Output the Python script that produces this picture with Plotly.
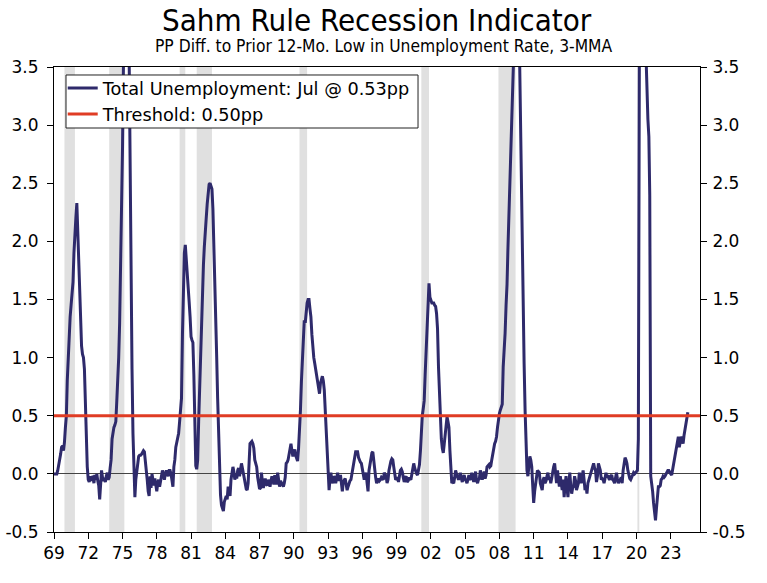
import pandas as pd
import plotly.graph_objects as go

# ---------------- data ----------------
start_month = "1969-01-01"

sahm_1969_1979 = [
    0.00, 0.00, 0.00, 0.00, 0.03, 0.07, 0.12, 0.17, 0.23, 0.24, 0.20, 0.27,   # 1969
    0.40, 0.50, 0.80, 1.05, 1.21, 1.35, 1.45, 1.55, 1.65, 1.90, 2.10, 2.20,   # 1970
    2.33, 2.05, 1.85, 1.45, 1.30, 1.10, 1.03, 1.00, 0.90, 0.60, 0.30, 0.06,   # 1971
    -0.05, -0.07, -0.02, -0.06, -0.02, -0.03, -0.08, -0.01, -0.05, 0.00, -0.06, -0.10,  # 1972
    -0.22, -0.08, 0.03, -0.03, -0.06, -0.05, -0.07, -0.02, 0.01, -0.05, -0.03, 0.05,    # 1973
    0.12, 0.30, 0.38, 0.40, 0.42, 0.45, 0.62, 0.78, 1.00, 1.30, 1.70, 2.20,   # 1974
    2.80, 3.55, 3.85, 4.00, 4.05, 4.05, 3.95, 3.60, 2.40, 1.60, 0.90, 0.35,   # 1975
    -0.08, -0.20, -0.05, 0.03, 0.12, 0.15, 0.16, 0.16, 0.17, 0.18, 0.20, 0.19,  # 1976
    0.12, 0.05, -0.05, -0.15, -0.19, -0.02, -0.12, 0.00, -0.05, -0.10, -0.04, -0.12,  # 1977
    -0.15, -0.08, -0.05, -0.11, -0.06, -0.02, 0.03, -0.01, -0.05, 0.00, 0.03, 0.00,   # 1978
    -0.02, 0.03, 0.03, 0.00, -0.05, -0.11, 0.06, 0.12, 0.23, 0.27, 0.31, 0.35,        # 1979
]
sahm_1980s = [
    0.45, 0.60, 0.65, 1.20, 1.65, 1.90, 1.97, 1.82, 1.70, 1.60, 1.48, 1.35,   # 1980
    1.18, 1.15, 1.13, 0.85, 0.25, 0.07, 0.04, 0.12, 0.45, 0.72, 1.05, 1.38,   # 1981
    1.60, 1.80, 1.95, 2.15, 2.20, 2.32, 2.44, 2.49, 2.50, 2.48, 2.45, 2.28,   # 1982
    2.00, 1.70, 1.30, 1.00, 0.65, 0.35, 0.05, -0.18, -0.27, -0.30, -0.32, -0.24,  # 1983
    -0.21, -0.19, -0.22, -0.11, -0.15, -0.19, -0.05, 0.03, 0.06, 0.02, -0.05, 0.00,  # 1984
    -0.04, 0.03, 0.05, -0.02, 0.04, 0.09, 0.05, 0.00, -0.05, -0.11, -0.13, -0.14,   # 1985
    -0.08, 0.10, 0.26, 0.27, 0.28, 0.26, 0.22, 0.12, 0.08, 0.06, -0.03, -0.11,      # 1986
    -0.13, -0.12, 0.01, -0.06, -0.12, -0.08, -0.04, -0.09, -0.10, -0.05, -0.08, -0.11,  # 1987
    -0.06, -0.02, -0.05, -0.09, -0.01, -0.05, -0.09, 0.01, -0.04, -0.11, -0.06, -0.08,  # 1988
    -0.09, -0.11, -0.08, -0.03, 0.09, 0.10, 0.12, 0.17, 0.21, 0.26, 0.20, 0.15,      # 1989
]
sahm_1990s = [
    0.18, 0.21, 0.16, 0.12, 0.11, 0.22, 0.35, 0.55, 0.80, 0.97, 1.12, 1.32,   # 1990
    1.30, 1.40, 1.47, 1.50, 1.50, 1.42, 1.35, 1.20, 1.05, 1.00, 0.95, 0.89,   # 1991
    0.85, 0.78, 0.72, 0.69, 0.78, 0.82, 0.84, 0.80, 0.72, 0.55, 0.40, 0.22,   # 1992
    0.05, -0.14, -0.05, 0.01, -0.06, -0.08, -0.02, -0.04, -0.08, -0.02, 0.01, -0.05,  # 1993
    -0.05, -0.01, -0.08, -0.15, -0.07, -0.05, -0.04, -0.09, -0.14, -0.11, -0.08, -0.06,  # 1994
    -0.05, 0.00, 0.03, 0.10, 0.15, 0.19, 0.19, 0.19, 0.14, 0.11, 0.10, 0.09,   # 1995
    0.03, -0.02, -0.05, -0.01, 0.01, -0.08, -0.15, 0.03, 0.08, 0.15, 0.18, 0.19,  # 1996
    0.10, 0.06, -0.03, -0.08, -0.05, -0.04, -0.06, -0.05, -0.03, -0.04, -0.05, 0.01,  # 1997
    -0.01, -0.02, -0.08, -0.05, 0.03, 0.08, 0.11, 0.13, 0.12, 0.06, 0.01, -0.05,  # 1998
    -0.04, -0.03, -0.07, -0.02, 0.03, 0.04, 0.02, -0.03, -0.07, -0.04, -0.02, -0.07,  # 1999
]
sahm_2000s = [
    -0.06, -0.04, -0.04, -0.05, 0.00, 0.03, 0.09, 0.05, 0.01, 0.00, -0.01, 0.04,  # 2000
    0.08, 0.20, 0.40, 0.50, 0.56, 0.63, 0.85, 1.07, 1.35, 1.58, 1.64, 1.52,       # 2001
    1.50, 1.47, 1.47, 1.47, 1.45, 1.44, 1.38, 1.25, 0.92, 0.70, 0.55, 0.30,       # 2002
    0.22, 0.18, 0.25, 0.35, 0.45, 0.49, 0.45, 0.40, 0.20, 0.05, -0.08, -0.07,     # 2003
    -0.08, -0.03, 0.03, 0.00, -0.02, -0.05, -0.03, 0.01, -0.04, -0.07, -0.03, -0.01,  # 2004
    -0.05, -0.06, -0.08, -0.03, -0.01, -0.04, -0.05, 0.01, -0.02, -0.07, -0.03, 0.02,  # 2005
    -0.06, -0.08, -0.05, -0.04, 0.03, -0.01, -0.05, -0.02, 0.02, -0.04, -0.01, 0.06,   # 2006
    0.07, 0.08, 0.06, 0.07, 0.12, 0.18, 0.23, 0.26, 0.28, 0.32, 0.40, 0.49,       # 2007
    0.52, 0.55, 0.57, 0.60, 0.92, 1.05, 1.21, 1.45, 1.63, 1.95, 2.25, 2.60,       # 2008
    2.90, 3.30, 3.65, 3.90, 4.05, 4.15, 4.15, 4.10, 4.00, 3.70, 3.10, 2.35,       # 2009
]
sahm_2010s = [
    1.85, 1.35, 0.95, 0.55, 0.20, 0.03, -0.02, 0.05, 0.15, 0.12, 0.06, -0.10,     # 2010
    -0.25, -0.15, -0.08, 0.00, 0.03, 0.02, 0.01, -0.08, -0.12, -0.14, -0.05, -0.03,  # 2011
    -0.08, -0.06, -0.02, 0.01, -0.05, -0.03, -0.08, -0.02, 0.03, 0.06, 0.09, 0.00,   # 2012
    -0.08, 0.03, -0.05, -0.11, -0.02, -0.08, -0.14, -0.05, -0.20, -0.10, -0.02, -0.12,  # 2013
    -0.20, -0.08, 0.01, -0.10, -0.17, -0.12, -0.11, -0.02, -0.06, -0.14, -0.11, -0.08,  # 2014
    0.01, -0.04, -0.08, -0.02, 0.03, -0.05, -0.14, -0.10, -0.17, -0.08, -0.05, -0.02,   # 2015
    0.00, 0.03, 0.06, 0.09, 0.05, 0.03, -0.07, -0.02, 0.09, 0.06, 0.03, -0.05,     # 2016
    -0.04, -0.05, -0.08, -0.04, 0.01, -0.03, -0.01, -0.04, -0.05, -0.02, -0.01, -0.05,  # 2017
    -0.06, -0.08, -0.03, 0.01, -0.04, -0.08, -0.06, -0.05, -0.03, -0.08, 0.03, 0.08,    # 2018
    0.14, 0.12, 0.09, 0.03, -0.02, -0.04, -0.05, -0.02, -0.01, 0.01, 0.00, 0.01,   # 2019
]
sahm_2020s = [
    0.02, 0.03, 0.30, 4.07, 7.30, 9.50, 7.97, 6.37, 5.30, 4.17, 3.60, 3.23,       # 2020
    3.05, 2.90, 2.40, -0.02, -0.08, -0.15, -0.25, -0.35, -0.40, -0.30, -0.18, -0.11,  # 2021
    -0.11, -0.10, -0.05, -0.04, -0.02, -0.03, -0.02, 0.00, 0.01, 0.03, 0.03, 0.01,   # 2022
    0.00, -0.01, 0.03, 0.08, 0.12, 0.17, 0.21, 0.27, 0.32, 0.23, 0.28, 0.32,       # 2023
    0.30, 0.26, 0.33, 0.38, 0.43, 0.47, 0.53,                                      # 2024 (Jan-Jul)
]

threshold = 0.50

recession_start = ["1969-12-01", "1973-11-01", "1980-01-01", "1981-07-01",
                   "1990-07-01", "2001-03-01", "2007-12-01", "2020-02-01"]
recession_end = ["1970-11-01", "1975-03-01", "1980-07-01", "1982-11-01",
                 "1991-03-01", "2001-11-01", "2009-06-01", "2020-04-01"]

tick_years = list(range(1969, 2024, 3))
tick_labels = ["69", "72", "75", "78", "81", "84", "87", "90", "93", "96",
               "99", "02", "05", "08", "11", "14", "17", "20", "23"]

x_range = ["1969-01-01", "2025-07-25"]
y_range = [-0.5, 3.5]
y_ticks = [-0.5, 0.0, 0.5, 1.0, 1.5, 2.0, 2.5, 3.0, 3.5]
y_tick_labels = ["-0.5", "0.0", "0.5", "1.0", "1.5", "2.0", "2.5", "3.0", "3.5"]

series_name = "Total Unemployment: Jul @ 0.53pp"
threshold_name = "Threshold: 0.50pp"

# ---------------- figure ----------------
sahm = sahm_1969_1979 + sahm_1980s + sahm_1990s + sahm_2000s + sahm_2010s + sahm_2020s
dates = pd.date_range(start_month, periods=len(sahm), freq="MS")

NAVY = "#2e2a6b"
RED = "#e03c24"
FONT = "DejaVu Sans"
TITLE_FONT = "DejaVu Sans Condensed"

fig = go.Figure()

fig.add_trace(go.Scatter(x=dates, y=sahm, mode="lines", name=series_name,
                         line=dict(color=NAVY, width=3)))
fig.add_trace(go.Scatter(x=x_range, y=[threshold, threshold], mode="lines",
                         name=threshold_name, line=dict(color=RED, width=3)))
# invisible trace to activate right-hand axis
fig.add_trace(go.Scatter(x=x_range, y=y_range, mode="markers", yaxis="y2",
                         marker=dict(opacity=0), showlegend=False, hoverinfo="skip"))

for s, e in zip(recession_start, recession_end):
    fig.add_shape(type="rect", xref="x", yref="paper", x0=s, x1=e, y0=0, y1=1,
                  fillcolor="#e0e0e0", line=dict(width=0), layer="below")

# opaque legend box
fig.add_shape(type="rect", xref="paper", yref="paper",
              x0=0.0186, x1=0.5635, y0=0.8688, y1=0.9828,
              fillcolor="white", line=dict(color="#222", width=1), layer="above")

fig.update_layout(
    width=767, height=583,
    margin=dict(l=54, r=67, t=67, b=51, autoexpand=False),
    paper_bgcolor="white", plot_bgcolor="rgba(0,0,0,0)",
    font=dict(family=FONT, color="black", size=16),
    legend=dict(x=0.0135, y=0.9935, xanchor="left", yanchor="top",
                borderwidth=0, bgcolor="rgba(0,0,0,0)",
                font=dict(size=17.7, family=FONT), tracegroupgap=0, itemwidth=30),
    xaxis=dict(type="date", range=x_range, automargin=False,
               tickvals=[f"{y}-01-01" for y in tick_years], ticktext=tick_labels,
               ticks="outside", ticklen=6, tickcolor="black", tickwidth=1,
               showline=True, linecolor="black", linewidth=1, mirror=True,
               showgrid=False, zeroline=False,
               tickfont=dict(size=17, family=FONT)),
    yaxis=dict(range=y_range, tickvals=y_ticks, ticktext=y_tick_labels, automargin=False,
               ticks="outside", ticklen=6, tickcolor="black", ticklabelstandoff=5,
               showline=True, linecolor="black", linewidth=1,
               showgrid=False, zeroline=True, zerolinecolor="#444", zerolinewidth=1,
               tickfont=dict(size=17, family=FONT)),
    yaxis2=dict(range=y_range, tickvals=y_ticks, ticktext=y_tick_labels, overlaying="y",
                side="right", ticks="outside", ticklen=6, tickcolor="black",
                automargin=False, ticklabelstandoff=2,
                showline=True, linecolor="black", linewidth=1,
                showgrid=False, zeroline=False,
                tickfont=dict(size=17, family=FONT)),
    annotations=[
        dict(text="Sahm Rule Recession Indicator", xref="paper", yref="paper",
             x=0.5, y=1.100, xanchor="center", yanchor="middle", showarrow=False,
             font=dict(size=31, family=TITLE_FONT)),
        dict(text="PP Diff. to Prior 12-Mo. Low in Unemployment Rate, 3-MMA",
             xref="paper", yref="paper", x=0.51, y=1.045, xanchor="center",
             yanchor="middle", showarrow=False,
             font=dict(size=17.3, family=TITLE_FONT)),
    ],
)

fig.write_html("out.html", config={"displayModeBar": False},
               post_script="document.body.style.margin='0px';")
